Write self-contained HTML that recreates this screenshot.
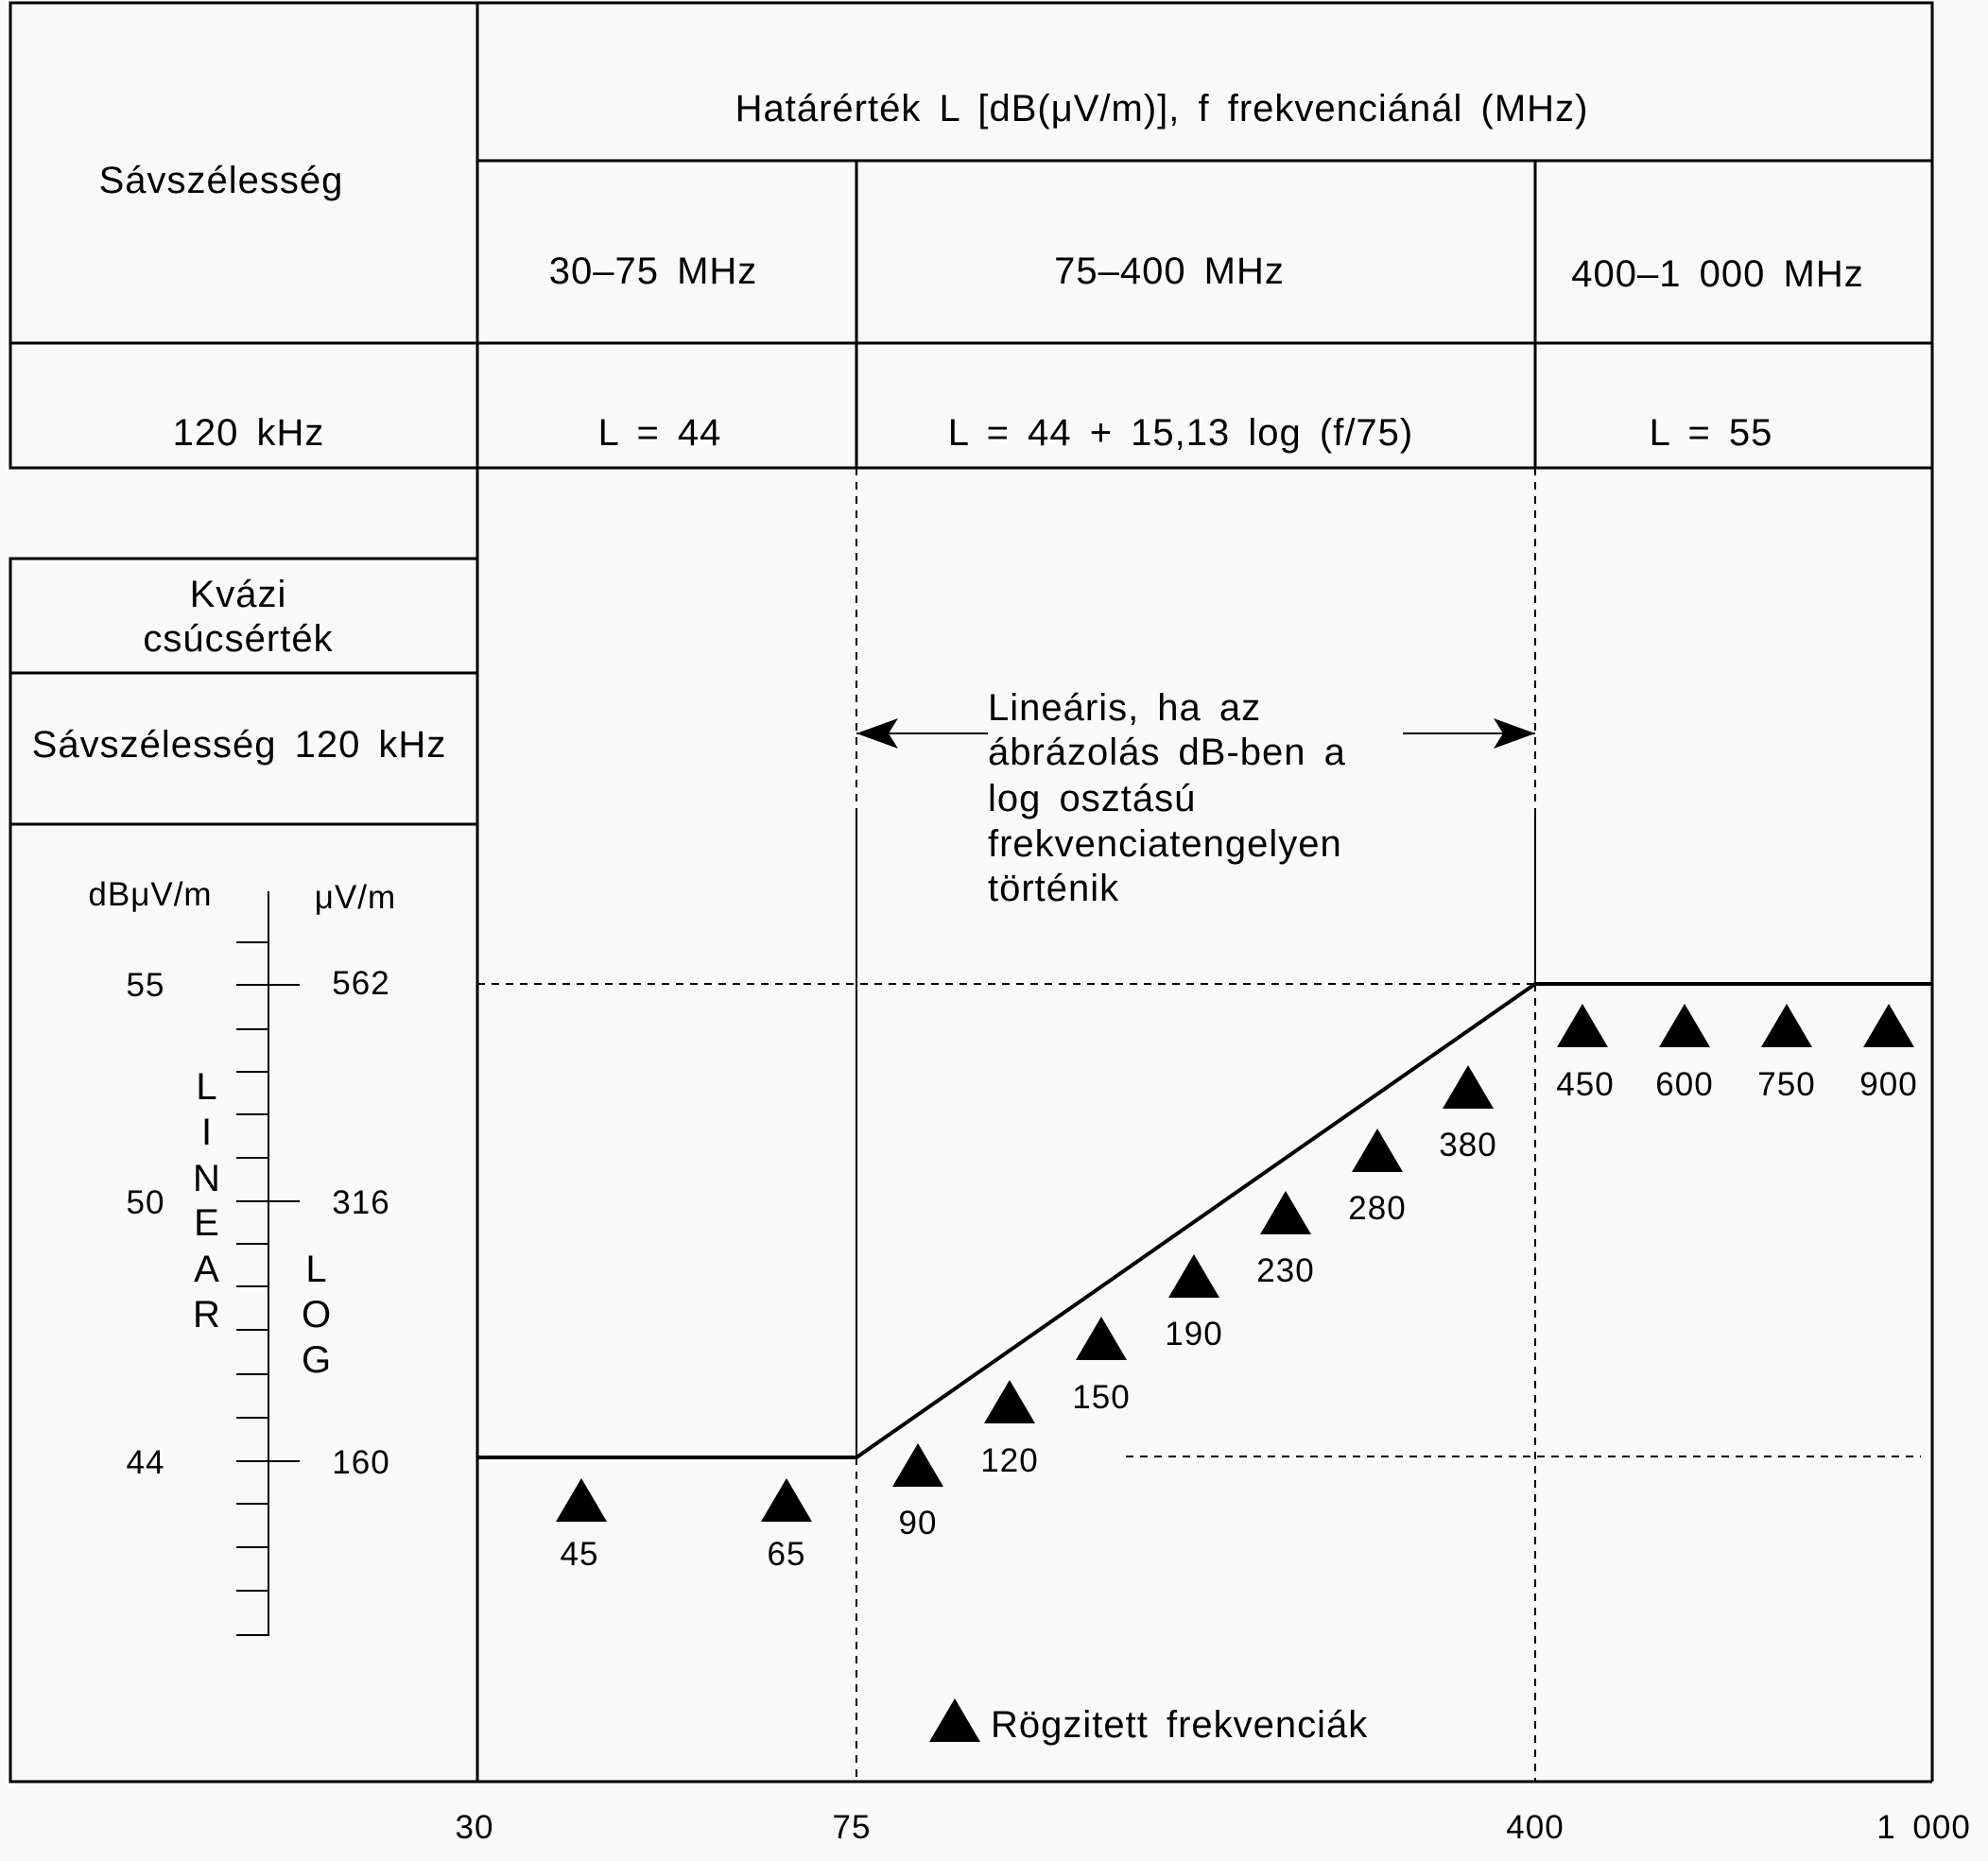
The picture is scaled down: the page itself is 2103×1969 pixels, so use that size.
<!DOCTYPE html>
<html><head><meta charset="utf-8"><style>
html,body{margin:0;padding:0;background:#fff}
svg{display:block}
text{font-family:"Liberation Sans",sans-serif;fill:#000;letter-spacing:1px;word-spacing:7px}
</style></head><body>
<svg width="2103" height="1969" viewBox="0 0 2103 1969" xmlns="http://www.w3.org/2000/svg">
<rect width="2103" height="1969" fill="#f9f9f9"/>
<g stroke="#000" stroke-width="3" fill="none">
<rect x="11" y="3" width="2033" height="492"/>
<line x1="505" y1="3" x2="505" y2="1885"/>
<line x1="505" y1="170" x2="2044" y2="170"/>
<line x1="11" y1="363" x2="2044" y2="363"/>
<line x1="906" y1="170" x2="906" y2="495"/>
<line x1="1624" y1="170" x2="1624" y2="495"/>
<line x1="505" y1="1885" x2="2044" y2="1885"/>
<line x1="2044" y1="495" x2="2044" y2="1885"/>
<rect x="11" y="591" width="494" height="1294"/>
<line x1="11" y1="712" x2="505" y2="712"/>
<line x1="11" y1="872" x2="505" y2="872"/>
</g>
<g stroke="#000" stroke-width="2" fill="none" stroke-dasharray="8,7">
<line x1="906" y1="495" x2="906" y2="857"/>
<line x1="906" y1="1542" x2="906" y2="1885"/>
<line x1="1624" y1="495" x2="1624" y2="857"/>
<line x1="1624" y1="1041" x2="1624" y2="1885"/>
<line x1="505" y1="1041" x2="1624" y2="1041"/>
<line x1="1191" y1="1541" x2="2032" y2="1541"/>
</g>
<g stroke="#000" stroke-width="2" fill="none">
<line x1="906" y1="857" x2="906" y2="1542"/>
<line x1="1624" y1="857" x2="1624" y2="1041"/>
<line x1="906" y1="776" x2="1045" y2="776"/>
<line x1="1484" y1="776" x2="1624" y2="776"/>
</g>
<g stroke="#000" stroke-width="4" fill="none">
<polyline points="505,1542 906,1542 1624,1041 2044,1041"/>
</g>
<polygon points="906,776 950,760 940,776 950,792" fill="#000"/>
<polygon points="1624,776 1580,760 1590,776 1580,792" fill="#000"/>
<g stroke="#000" stroke-width="2">
<line x1="284" y1="943" x2="284" y2="1731"/>
<line x1="250" y1="997" x2="284" y2="997"/><line x1="250" y1="1042" x2="317" y2="1042"/>
<line x1="250" y1="1089" x2="284" y2="1089"/><line x1="250" y1="1134" x2="284" y2="1134"/>
<line x1="250" y1="1179" x2="284" y2="1179"/><line x1="250" y1="1225" x2="284" y2="1225"/>
<line x1="250" y1="1271" x2="317" y2="1271"/><line x1="250" y1="1316" x2="284" y2="1316"/>
<line x1="250" y1="1361" x2="284" y2="1361"/><line x1="250" y1="1407" x2="284" y2="1407"/>
<line x1="250" y1="1454" x2="284" y2="1454"/><line x1="250" y1="1500" x2="284" y2="1500"/>
<line x1="250" y1="1546" x2="317" y2="1546"/><line x1="250" y1="1591" x2="284" y2="1591"/>
<line x1="250" y1="1637" x2="284" y2="1637"/><line x1="250" y1="1683" x2="284" y2="1683"/>
<line x1="250" y1="1730" x2="284" y2="1730"/>
</g>
<g font-size="40" text-anchor="middle">
<text x="1229" y="128">Határérték L [dB(μV/m)], f frekvenciánál (MHz)</text>
<text x="234" y="204">Sávszélesség</text>
<text x="691" y="300">30–75 MHz</text>
<text x="1237" y="300">75–400 MHz</text>
<text x="1817" y="303">400–1 000 MHz</text>
<text x="263" y="471">120 kHz</text>
<text x="698" y="471">L = 44</text>
<text x="1249" y="471">L = 44 + 15,13 log (f/75)</text>
<text x="1810" y="471">L = 55</text>
<text x="252" y="642">Kvázi</text>
<text x="252" y="689">csúcsérték</text>
<text x="253" y="801">Sávszélesség 120 kHz</text>
</g>
<g font-size="35" text-anchor="middle">
<text x="159" y="958">dBμV/m</text>
<text x="376" y="961">μV/m</text>
<text x="154" y="1054">55</text><text x="382" y="1052">562</text>
<text x="154" y="1284">50</text><text x="382" y="1284">316</text>
<text x="154" y="1559">44</text><text x="382" y="1559">160</text>
</g>
<g font-size="40" text-anchor="middle">
<text x="219" y="1163">L</text><text x="219" y="1211">I</text><text x="219" y="1260">N</text>
<text x="219" y="1307">E</text><text x="219" y="1356">A</text><text x="219" y="1404">R</text>
<text x="335" y="1356">L</text><text x="335" y="1404">O</text><text x="335" y="1452">G</text>
</g>
<g font-size="40">
<text x="1045" y="762">Lineáris, ha az</text>
<text x="1045" y="809">ábrázolás dB-ben a</text>
<text x="1045" y="858">log osztású</text>
<text x="1045" y="906">frekvenciatengelyen</text>
<text x="1045" y="953">történik</text>
<text x="1048" y="1838">Rögzitett frekvenciák</text>
</g>
<g fill="#000">
<polygon points="615,1564 642,1610 588,1610"/>
<polygon points="832,1564 859,1610 805,1610"/>
<polygon points="971,1527 998,1573 944,1573"/>
<polygon points="1068,1460 1095,1506 1041,1506"/>
<polygon points="1165,1393 1192,1439 1138,1439"/>
<polygon points="1263,1327 1290,1373 1236,1373"/>
<polygon points="1360,1260 1387,1306 1333,1306"/>
<polygon points="1457,1194 1484,1240 1430,1240"/>
<polygon points="1553,1127 1580,1173 1526,1173"/>
<polygon points="1674,1062 1701,1108 1647,1108"/>
<polygon points="1782,1062 1809,1108 1755,1108"/>
<polygon points="1890,1062 1917,1108 1863,1108"/>
<polygon points="1998,1062 2025,1108 1971,1108"/>
<polygon points="1010,1797 1037,1843 983,1843"/>
</g>
<g font-size="35" text-anchor="middle">
<text x="613" y="1656">45</text>
<text x="832" y="1656">65</text>
<text x="971" y="1623">90</text>
<text x="1068" y="1557">120</text>
<text x="1165" y="1490">150</text>
<text x="1263" y="1423">190</text>
<text x="1360" y="1356">230</text>
<text x="1457" y="1290">280</text>
<text x="1553" y="1223">380</text>
<text x="1677" y="1159">450</text>
<text x="1782" y="1159">600</text>
<text x="1890" y="1159">750</text>
<text x="1998" y="1159">900</text>
<text x="502" y="1945">30</text>
<text x="901" y="1945">75</text>
<text x="1624" y="1945">400</text>
<text x="2035" y="1945">1 000</text>
</g>
</svg>
</body></html>
